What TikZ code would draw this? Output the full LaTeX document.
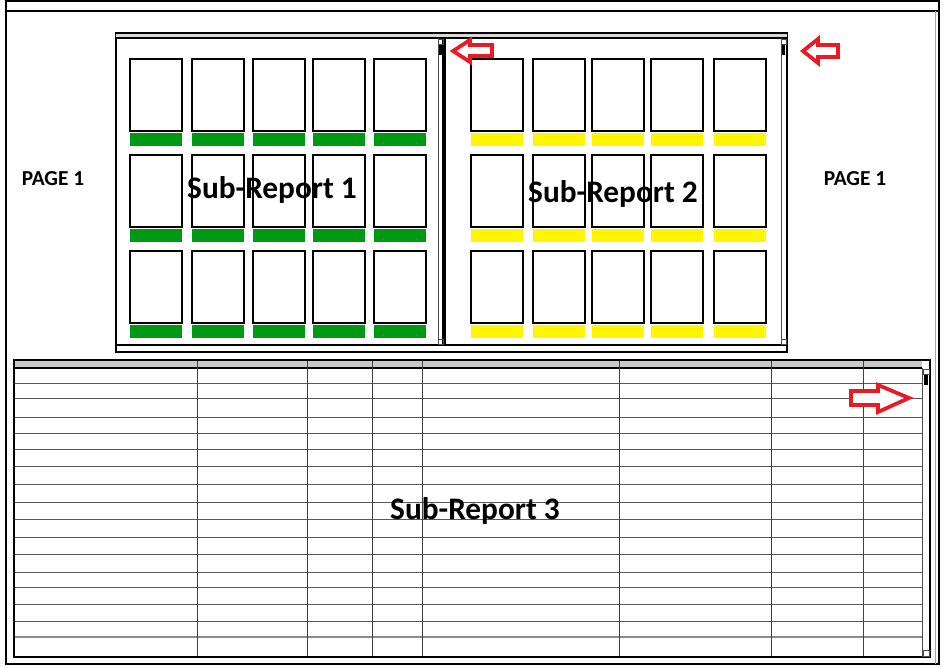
\documentclass[tikz,border=0pt]{standalone}
\usepackage{fontspec}
\setmainfont{Carlito}
\definecolor{repgreen}{RGB}{0,153,20}
\definecolor{repyellow}{RGB}{255,245,0}
\definecolor{hdrgray}{RGB}{200,200,200}
\definecolor{arrowred}{RGB}{235,25,35}
\begin{document}
\begin{tikzpicture}[x=0.75pt,y=-0.75pt,
		cardbox/.style={draw=black, fill=white, line width=0.9pt},
		scrollbox/.style={draw=black!70, line width=0.6pt},
		redarrow/.style={draw=arrowred, line width=2.8pt, fill=white, line join=miter},
		rowline/.style={draw=black!65, line width=0.7pt},
		bigtext/.style={font=\fontsize{23.5}{28}\selectfont\bfseries},
		pagetext/.style={font=\fontsize{16}{19}\selectfont\bfseries}]

				\useasboundingbox (0,0) rectangle (947,667);

				% page frame
				\draw[line width=1.3pt] (6,1) rectangle (939,664);
				\draw[line width=0.9pt] (6,11) -- (939,11);
				\draw[black!35] (935,11) -- (935,664);

				% sub-reports 1 and 2
				\draw[line width=0.8pt] (116,33) rectangle (787,352);
				\fill[black!15] (116,34) rectangle (787,38);
				\draw[line width=0.8pt] (116,38) rectangle (443,345);
				\draw[line width=0.8pt] (445,38) rectangle (787,345);
				\draw[scrollbox] (438,38) -- (438,345);
				\draw[scrollbox] (781,38) -- (781,345);
				\foreach \sx in {438,781}
				{
					\draw[scrollbox] (\sx,39) rectangle ++(5,5);
					\fill[black] (\sx+1,45) rectangle ++(3,10);
					\draw[scrollbox] (\sx,339) rectangle ++(5,5);
				}

				\foreach \cx in {130,192,253,313,374}
				{
					\foreach \cy in {59,155,251}
					{
						\draw[cardbox] (\cx,\cy) rectangle ++(52,72);
						\fill[repgreen] (\cx,\cy+74) rectangle ++(52,13);
					}
				}
				\foreach \cx in {471,533,592,651,714}
				{
					\foreach \cy in {59,155,251}
					{
						\draw[cardbox] (\cx,\cy) rectangle ++(52,72);
						\fill[repyellow] (\cx,\cy+74) rectangle ++(52,13);
					}
				}

				% sub-report 3
				\fill[hdrgray] (14,360) rectangle (922,368);
				\foreach \ry in {383,398,417,433,449,466,484,502,519,537,554,572,587,604,621}
				{
					\draw[rowline] (14,\ry) -- (922,\ry);
				}
				\draw[black!45, line width=1.3pt] (14,637) -- (922,637);
				\draw[line width=0.8pt] (14,368) -- (922,368);
				\foreach \cx in {197,307,372,422,619,771,863}
				{
					\draw[black!75, line width=0.7pt] (\cx,360) -- (\cx,657);
				}
				\draw[line width=0.8pt] (14,360) rectangle (930,657);
				\draw[scrollbox] (922,368) -- (922,657);
				\draw[scrollbox] (923,369) rectangle ++(6,5);
				\fill[black] (924,375) rectangle ++(4,10);
				\draw[scrollbox] (923,650) rectangle ++(6,6);

				% red arrows
				\draw[redarrow] (453,51) -- (470,40) -- (470,45) -- (492,45) -- (492,56) -- (470,56) -- (470,62) -- cycle;
				\draw[redarrow] (803,51) -- (818,39) -- (818,45) -- (838,45) -- (838,57) -- (818,57) -- (818,63) -- cycle;
				\draw[redarrow] (909,398) -- (878,385) -- (878,391) -- (851,391) -- (851,405) -- (878,405) -- (878,412) -- cycle;

				% labels
				\node[pagetext] (pageleft)  at (53,179)  {PAGE 1};
				\node[pagetext] (pageright) at (855,179) {PAGE 1};
				\node[bigtext] (subrepone)   at (272,190) {Sub-Report 1};
				\node[bigtext] (subreptwo)   at (613,194) {Sub-Report 2};
				\node[bigtext] (subrepthree) at (475,511) {Sub-Report 3};
\end{tikzpicture}
\end{document}
